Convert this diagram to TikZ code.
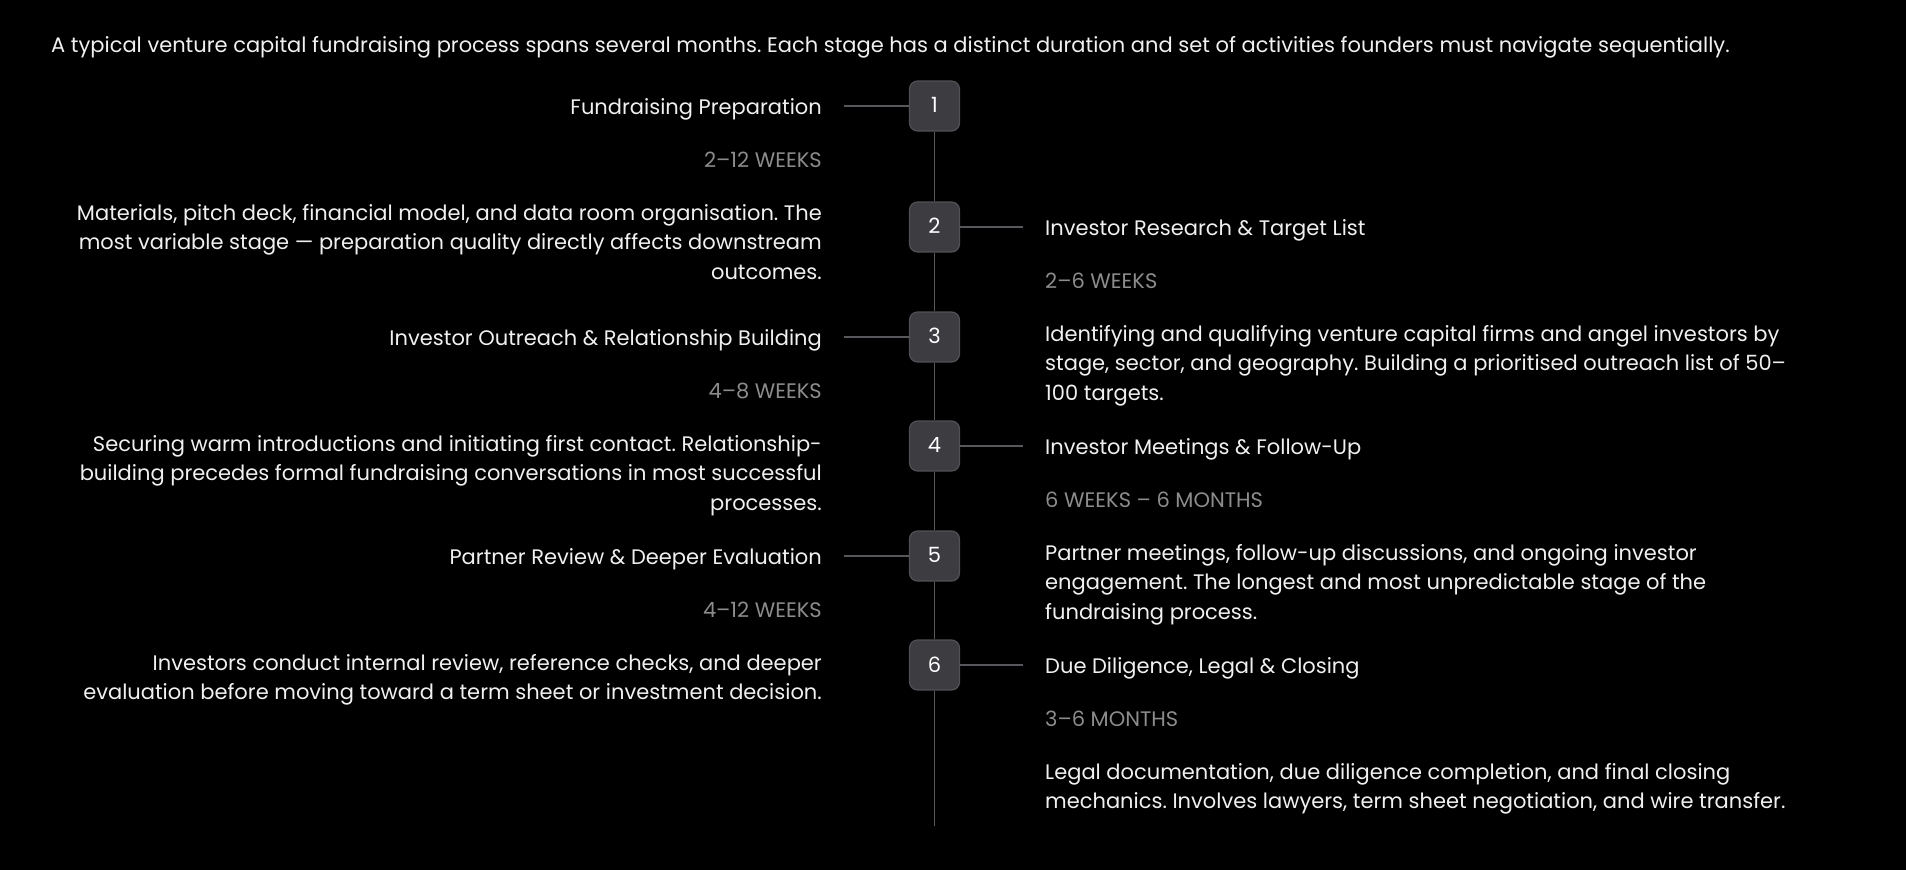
\documentclass[tikz,border=0pt]{standalone}
\usepackage{fontspec}
\setmainfont{Poppins}
\frenchspacing
\definecolor{bg}{HTML}{000000}
\definecolor{txt}{HTML}{F0F0F0}
\definecolor{dur}{HTML}{8C8C8C}
\definecolor{boxfill}{HTML}{3C3C41}
\definecolor{boxline}{HTML}{505056}
\definecolor{spinec}{HTML}{58585C}
\begin{document}
\begin{tikzpicture}[x=1pt,y=-1pt,
  stagebox/.style={draw=boxline,fill=boxfill,line width=1.2pt,rounded corners=8pt,minimum width=50pt,minimum height=50pt,inner sep=0pt,text=white,font=\fontsize{21}{24}\selectfont},
  spine/.style={draw=spinec,line width=1.8pt},
  conn/.style={draw=spinec,line width=1.8pt},
  ttl/.style={inner sep=0pt,text=txt,font=\fontsize{21}{25}\selectfont\frenchspacing},
  durt/.style={inner sep=0pt,text=dur,font=\fontsize{21}{25}\selectfont},
  desc/.style={inner sep=0pt,text=txt,font=\fontsize{21}{29.7}\selectfont\frenchspacing},
  lefttxt/.style={anchor=base east,align=right},
  righttxt/.style={anchor=base west,align=left}]
\useasboundingbox[fill=bg] (0,0) rectangle (1906,870);
\node[ttl,anchor=base west] (intro) at (51,52.5) {A typical venture capital fundraising process spans several months. Each stage has a distinct duration and set of activities founders must navigate sequentially.};
% boxes
\node[stagebox] (b1) at (934.5,106) {\raisebox{1.5pt}{1}};
\node[stagebox] (b2) at (934.5,227) {\raisebox{1.5pt}{2}};
\node[stagebox] (b3) at (934.5,337) {\raisebox{1.5pt}{3}};
\node[stagebox] (b4) at (934.5,446) {\raisebox{1.5pt}{4}};
\node[stagebox] (b5) at (934.5,556) {\raisebox{1.5pt}{5}};
\node[stagebox] (b6) at (934.5,665) {\raisebox{1.5pt}{6}};
\coordinate (end) at (934.5,826);
\draw[spine] (b1.south) -- (b2.north) (b2.south) -- (b3.north) (b3.south) -- (b4.north) (b4.south) -- (b5.north) (b5.south) -- (b6.north) (b6.south) -- (end);
% connector ends
\coordinate (c1) at (844,106);
\coordinate (c3) at (844,337);
\coordinate (c5) at (844,556);
\coordinate (c2) at (1023,227);
\coordinate (c4) at (1023,446);
\coordinate (c6) at (1023,665);
\draw[conn] (c1) -- (b1.west);
\draw[conn] (c3) -- (b3.west);
\draw[conn] (c5) -- (b5.west);
\draw[conn] (b2.east) -- (c2);
\draw[conn] (b4.east) -- (c4);
\draw[conn] (b6.east) -- (c6);
% stage 1
\node[ttl,lefttxt] (t1) at (822,114) {Fundraising Preparation};
\node[durt,lefttxt] (d1) at (822,167) {2–12 WEEKS};
\node[desc,lefttxt] (p1) at (822,279.6) {Materials, pitch deck, financial model, and data room organisation. The\\most variable stage — preparation quality directly affects downstream\\outcomes.};
% stage 2
\node[ttl,righttxt] (t2) at (1045,235) {Investor Research \& Target List};
\node[durt,righttxt] (d2) at (1045,288) {2–6 WEEKS};
\node[desc,righttxt] (p2) at (1045,400.6) {Identifying and qualifying venture capital firms and angel investors by\\stage, sector, and geography. Building a prioritised outreach list of 50–\\100 targets.};
% stage 3
\node[ttl,lefttxt] (t3) at (822,345) {Investor Outreach \& Relationship Building};
\node[durt,lefttxt] (d3) at (822,398) {4–8 WEEKS};
\node[desc,lefttxt] (p3) at (822,510.6) {Securing warm introductions and initiating first contact. Relationship-\\building precedes formal fundraising conversations in most successful\\processes.};
% stage 4
\node[ttl,righttxt] (t4) at (1045,454) {Investor Meetings \& Follow-Up};
\node[durt,righttxt] (d4) at (1045,507) {6 WEEKS – 6 MONTHS};
\node[desc,righttxt] (p4) at (1045,619.6) {Partner meetings, follow-up discussions, and ongoing investor\\engagement. The longest and most unpredictable stage of the\\fundraising process.};
% stage 5
\node[ttl,lefttxt] (t5) at (822,564) {Partner Review \& Deeper Evaluation};
\node[durt,lefttxt] (d5) at (822,617) {4–12 WEEKS};
\node[desc,lefttxt] (p5) at (822,699.9) {Investors conduct internal review, reference checks, and deeper\\evaluation before moving toward a term sheet or investment decision.};
% stage 6
\node[ttl,righttxt] (t6) at (1045,673) {Due Diligence, Legal \& Closing};
\node[durt,righttxt] (d6) at (1045,726) {3–6 MONTHS};
\node[desc,righttxt] (p6) at (1045,808.9) {Legal documentation, due diligence completion, and final closing\\mechanics. Involves lawyers, term sheet negotiation, and wire transfer.};
\end{tikzpicture}
\end{document}
